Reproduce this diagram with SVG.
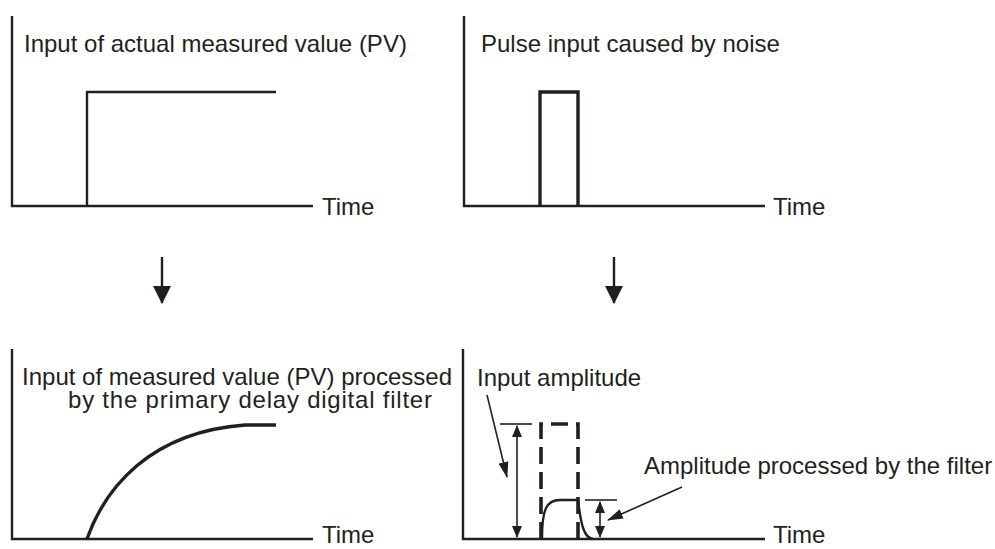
<svg xmlns="http://www.w3.org/2000/svg" width="995" height="549" viewBox="0 0 995 549">
<style>
.ax{fill:none;stroke:#231f20;stroke-width:2.4}
.sig{fill:none;stroke:#231f20;stroke-width:2.4}
.thick{fill:none;stroke:#231f20;stroke-width:3.4}
.dash{fill:none;stroke:#231f20;stroke-width:3.6;stroke-dasharray:17 8}
.thin{fill:none;stroke:#231f20;stroke-width:1.6}
.t{font-family:"Liberation Sans",Arial,sans-serif;font-size:24px;fill:#231f20}
</style>
<defs>
<marker id="ah" viewBox="0 0 12 10" refX="11" refY="5" markerWidth="12" markerHeight="10" markerUnits="userSpaceOnUse" orient="auto-start-reverse">
<path d="M0,0 L12,5 L0,10 Z" fill="#231f20"/>
</marker>
<marker id="ap" viewBox="0 0 16 10" refX="15" refY="5" markerWidth="16" markerHeight="10" markerUnits="userSpaceOnUse" orient="auto">
<path d="M0,0 L16,5 L0,10 Z" fill="#231f20"/>
</marker>
<marker id="ad" viewBox="0 0 18 18" refX="17" refY="9" markerWidth="18" markerHeight="18" markerUnits="userSpaceOnUse" orient="auto">
<path d="M0,0 L18,9 L0,18 Z" fill="#231f20"/>
</marker>
</defs>

<g id="panel-pv">
<path class="ax" d="M12,16 V206 H313"/>
<path class="sig" d="M87,206 V92 H276"/>
<text class="t" x="24" y="52">Input of actual measured value (PV)</text>
<text class="t" x="322" y="215">Time</text>
</g>

<g id="panel-noise">
<path class="ax" d="M464,16 V206 H765"/>
<path class="thick" d="M540,206 V92 H578 V206"/>
<text class="t" x="481" y="52">Pulse input caused by noise</text>
<text class="t" x="773" y="215">Time</text>
</g>

<g id="panel-filtered-pv">
<path class="ax" d="M12,349 V539 H313"/>
<path class="thick" d="M87,539 C105,488 150,432 245,425 L276,425"/>
<text class="t"><tspan x="22" y="385" textLength="430" lengthAdjust="spacing">Input of measured value (PV) processed</tspan><tspan x="68" y="408" textLength="364" lengthAdjust="spacing">by the primary delay digital filter</tspan></text>
<text class="t" x="322" y="543">Time</text>
</g>

<g id="panel-filtered-noise">
<path class="ax" d="M463,349 V539 H765"/>
<path class="dash" d="M541,539 V424 H578 V539"/>
<path class="sig" d="M542,539 C542,510 546,500 560,500 L578,500 C581,525 584,538 593,539"/>
<path class="thin" d="M500,424 H532"/>
<path class="thin" d="M585,500 H617"/>
<text class="t" x="477" y="386">Input amplitude</text>
<text class="t" x="644" y="474">Amplitude processed by the filter</text>
<text class="t" x="773" y="543">Time</text>
</g>

<g id="connectors">
<line class="sig" x1="162" y1="257" x2="162" y2="303" marker-end="url(#ad)"/>
<line class="sig" x1="614" y1="257" x2="614" y2="303" marker-end="url(#ad)"/>
<line class="thin" x1="517" y1="426" x2="517" y2="537" marker-start="url(#ah)" marker-end="url(#ah)"/>
<line class="thin" x1="600" y1="502" x2="600" y2="537" marker-start="url(#ah)" marker-end="url(#ah)"/>
<line class="thin" x1="487" y1="395" x2="507" y2="477" marker-end="url(#ap)"/>
<line class="thin" x1="682" y1="487" x2="608" y2="520" marker-end="url(#ap)"/>
</g>
</svg>
